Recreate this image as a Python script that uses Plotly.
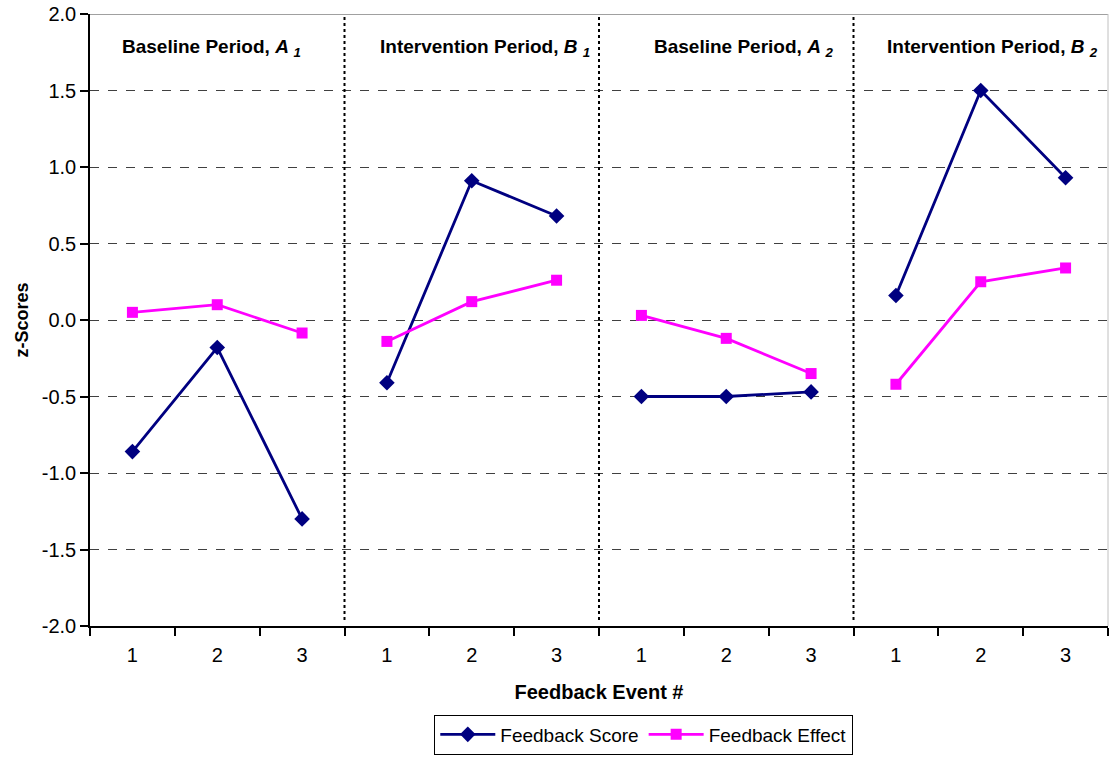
import plotly.graph_objects as go

# Feedback events within each period
events = ["1", "2", "3"]
periods = ["A1", "B1", "A2", "B2"]
period_titles = [
    "<b>Baseline Period, <i>A <sub>1</sub></i></b>",
    "<b>Intervention Period, <i>B <sub>1</sub></i></b>",
    "<b>Baseline Period, <i>A <sub>2</sub></i></b>",
    "<b>Intervention Period, <i>B <sub>2</sub></i></b>",
]

# z-scores per period (events 1..3)
score_a1 = [-0.86, -0.18, -1.30]
score_b1 = [-0.41, 0.91, 0.68]
score_a2 = [-0.50, -0.50, -0.47]
score_b2 = [0.16, 1.50, 0.93]

effect_a1 = [0.05, 0.10, -0.085]
effect_b1 = [-0.14, 0.12, 0.26]
effect_a2 = [0.03, -0.12, -0.35]
effect_b2 = [-0.42, 0.25, 0.34]

y_ticks = [-2.0, -1.5, -1.0, -0.5, 0.0, 0.5, 1.0, 1.5, 2.0]

score_groups = [score_a1, score_b1, score_a2, score_b2]
effect_groups = [effect_a1, effect_b1, effect_a2, effect_b2]
n_ev = len(events)


def flatten(groups):
    xs, ys = [], []
    for gi, vals in enumerate(groups):
        for ei, v in enumerate(vals):
            xs.append(gi * n_ev + ei + 1)
            ys.append(v)
        xs.append(None)
        ys.append(None)
    return xs, ys


sx, sy = flatten(score_groups)
ex, ey = flatten(effect_groups)

FONT = "Arial, Liberation Sans, sans-serif"

fig = go.Figure()
fig.add_trace(go.Scatter(
    x=sx, y=sy, mode="lines+markers", name="Feedback Score",
    line=dict(color="#000080", width=2.8),
    marker=dict(symbol="diamond", size=12, color="#000080"),
    connectgaps=False,
))
fig.add_trace(go.Scatter(
    x=ex, y=ey, mode="lines+markers", name="Feedback Effect",
    line=dict(color="#FF00FF", width=2.8),
    marker=dict(symbol="square", size=11, color="#FF00FF"),
    connectgaps=False,
))

n_cat = n_ev * len(periods)
tick_pos = list(range(1, n_cat + 1))
tick_text = events * len(periods)
boundaries = [i + 0.5 for i in range(0, n_cat + 1)]

shapes = []
# dotted separators between periods
for k in range(1, len(periods)):
    xpos = k * n_ev + 0.5
    shapes.append(dict(type="line", xref="x", yref="y", x0=xpos, x1=xpos,
                       y0=-1.96, y1=2.0, line=dict(color="black", width=2, dash="dot")))
# top and right border
shapes.append(dict(type="line", xref="paper", yref="y", x0=0, x1=1, y0=2.0, y1=2.0,
                   line=dict(color="#808080", width=1.5)))
shapes.append(dict(type="line", xref="paper", yref="paper", x0=1, x1=1, y0=0, y1=1,
                   line=dict(color="#c0c0c0", width=1)))

title_x = [1.93, 5.16, 8.2, 11.14]
annotations = []
for tx, t in zip(title_x, period_titles):
    annotations.append(dict(x=tx, y=1.78, xref="x", yref="y", text=t, showarrow=False,
                            font=dict(family=FONT, size=19, color="black"),
                            xanchor="center", yanchor="middle"))

fig.update_layout(
    width=1110, height=759,
    margin=dict(l=90, r=2, t=14, b=133, autoexpand=False),
    paper_bgcolor="white", plot_bgcolor="white",
    font=dict(family=FONT, size=20, color="black"),
    shapes=shapes,
    annotations=annotations,
    showlegend=True,
    legend=dict(orientation="h", x=0.544, y=-0.21, xanchor="center", yanchor="bottom",
                bordercolor="black", borderwidth=1, font=dict(size=19),
                itemwidth=55, tracegroupgap=0),
)

fig.update_xaxes(
    range=[0.5, n_cat + 0.5],
    tickmode="array", tickvals=tick_pos, ticktext=tick_text,
    ticks="", showgrid=False, zeroline=False,
    showline=True, linecolor="black", linewidth=1.5,
    tickfont=dict(size=20), ticklabelstandoff=10,
    minor=dict(tickmode="array", tickvals=boundaries, ticks="outside",
               ticklen=8, tickcolor="black", tickwidth=1.5, showgrid=False),
    title=dict(text="<b>Feedback Event #</b>", font=dict(size=20), standoff=20),
    automargin=False,
)
fig.update_yaxes(
    range=[-2.0, 2.0],
    tickmode="array", tickvals=y_ticks,
    ticktext=[f"{v:.1f}" for v in y_ticks],
    ticks="outside", ticklen=8, tickcolor="black", tickwidth=1.5,
    showgrid=True, gridcolor="#404040", gridwidth=1, griddash="dash",
    zeroline=False, showline=True, linecolor="black", linewidth=1.5,
    tickfont=dict(size=20),
    title=dict(text="<b>z-Scores</b>", font=dict(size=18), standoff=8),
    automargin=False,
)

fig.write_html("out.html")
